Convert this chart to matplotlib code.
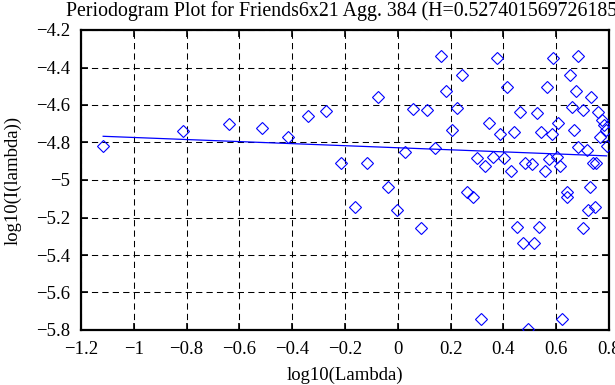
import numpy as np
import matplotlib
matplotlib.use('Agg')
import matplotlib.pyplot as plt

# periodogram points
log_lambda = [-1.116, -0.814, -0.638, -0.516, -0.417, -0.339, -0.271, -0.215, -0.162, -0.116,
              -0.074, -0.039, -0.004, 0.027, 0.059, 0.087, 0.112, 0.140, 0.162, 0.183,
              0.204, 0.225, 0.244, 0.261, 0.284, 0.299, 0.314, 0.330, 0.345, 0.359,
              0.375, 0.387, 0.402, 0.415, 0.427, 0.440, 0.450, 0.463, 0.473, 0.483,
              0.494, 0.510, 0.517, 0.526, 0.536, 0.542, 0.558, 0.564, 0.574, 0.583,
              0.589, 0.602, 0.608, 0.614, 0.621, 0.640, 0.640, 0.652, 0.659, 0.667,
              0.675, 0.681, 0.684, 0.700, 0.703, 0.716, 0.722, 0.728, 0.732, 0.741,
              0.747, 0.751, 0.757, 0.766, 0.772, 0.781, 0.789, 0.794]
log_I = [-4.817, -4.737, -4.703, -4.723, -4.769, -4.660, -4.633, -4.911, -5.142, -4.908,
         -4.556, -5.036, -5.160, -4.851, -4.620, -5.254, -4.627, -4.831, -4.339, -4.524,
         -4.733, -4.614, -4.440, -5.062, -5.089, -4.884, -5.740, -4.925, -4.694, -4.879,
         -4.348, -4.755, -4.884, -4.502, -4.952, -4.744, -5.249, -4.639, -5.334, -4.911,
         -5.796, -4.916, -5.334, -4.641, -5.249, -4.742, -4.952, -4.502, -4.886, -4.755,
         -4.351, -4.876, -4.694, -4.925, -5.740, -5.062, -5.089, -4.440, -4.612, -4.733,
         -4.524, -4.337, -4.826, -5.254, -4.627, -4.840, -5.160, -5.036, -4.556, -4.908,
         -5.142, -4.911, -4.636, -4.769, -4.680, -4.707, -4.733, -4.819]

# fitted line: slope = 1 - 2H
H = 0.527401569726185
intercept = -4.828
fit_x = [-1.116, 0.791]

xticks = [-1.2, -1, -0.8, -0.6, -0.4, -0.2, 0, 0.2, 0.4, 0.6, 0.8]
yticks = [-4.2, -4.4, -4.6, -4.8, -5, -5.2, -5.4, -5.6, -5.8]

plt.rcParams['font.family'] = ['Liberation Serif', 'DejaVu Serif']
plt.rcParams['font.size'] = 13.5

fig = plt.figure(figsize=(6.15, 3.85), dpi=100)
ax = fig.add_axes([81 / 615, 55 / 385, 528 / 615, 300 / 385])

slope = 1 - 2 * H
fx = np.array(fit_x)
ax.plot(fx, intercept + slope * fx, color='blue', lw=0.9, zorder=3)
ax.plot(log_lambda, log_I, linestyle='none', marker='D', markersize=6.6,
        markerfacecolor='none', markeredgecolor='blue', markeredgewidth=0.8, zorder=4)

ax.set_xlim(-1.2, 0.8)
ax.set_ylim(-5.8, -4.2)
ax.set_xticks(xticks)
ax.set_yticks(yticks)
ax.set_xticklabels(['\u22121.2', '\u22121', '\u22120.8', '\u22120.6', '\u22120.4', '\u22120.2',
                    '0', '0.2', '0.4', '0.6', '0.8'])
ax.set_yticklabels(['\u22124.2', '\u22124.4', '\u22124.6', '\u22124.8', '\u22125',
                    '\u22125.2', '\u22125.4', '\u22125.6', '\u22125.8'])

ax.grid(True, color='black', linestyle=(0, (6, 4)), linewidth=0.75)
ax.set_axisbelow(True)
ax.tick_params(direction='in', length=5, width=1.2, top=True, right=True, pad=8)
for s in ax.spines.values():
    s.set_linewidth(1.6)

title = ax.set_title('Periodogram Plot for Friends6x21 Agg. 384 (H=0.527401569726185)',
                     fontsize=12, pad=10)
ax.set_xlabel('log10(Lambda)', labelpad=6)
ax.set_ylabel('log10(I(lambda))', labelpad=10)

# the title runs past the right edge like in the original; size it so it starts at x~66px
fig.canvas.draw()
w = title.get_window_extent().width
title.set_fontsize(12 * 558 / w)

fig.savefig('out.png', dpi=100)
